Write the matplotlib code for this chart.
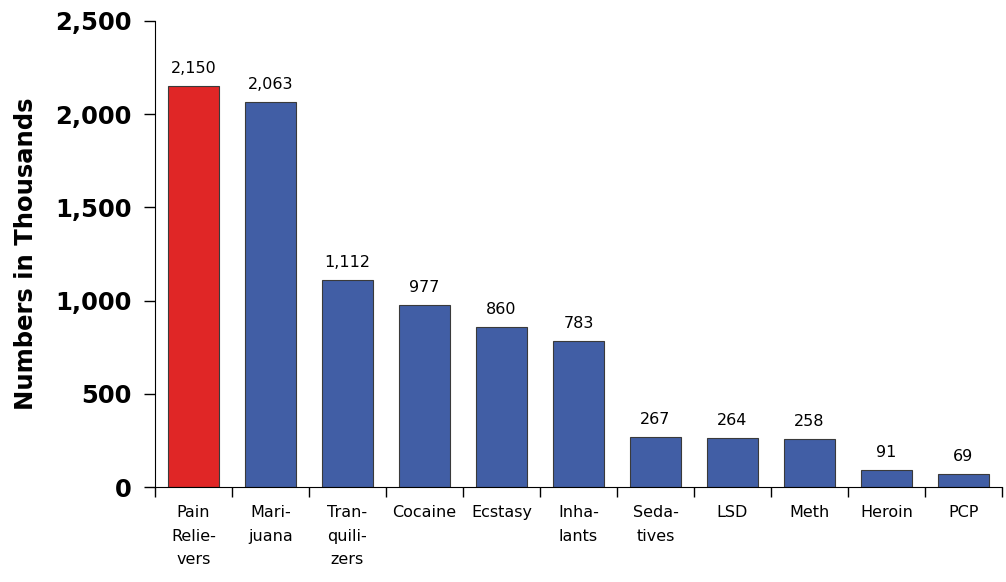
import matplotlib
matplotlib.use("Agg")
from matplotlib import pyplot as plt
from matplotlib.ticker import FuncFormatter, FixedLocator

drugs = ["Pain\nRelie-\nvers", "Mari-\njuana", "Tran-\nquili-\nzers", "Cocaine", "Ecstasy",
         "Inha-\nlants", "Seda-\ntives", "LSD", "Meth", "Heroin", "PCP"]
users = [2150, 2063, 1112, 977, 860, 783, 267, 264, 258, 91, 69]
y_ticks = [0, 500, 1000, 1500, 2000, 2500]

RED = "#e02626"
BLUE = "#415ea5"

plt.rcParams["font.family"] = ["DejaVu Sans"]

fig = plt.figure(figsize=(10.06, 5.82), dpi=100)
ax = fig.add_axes([0.154, 0.163, 0.842, 0.801])

positions = list(range(len(users)))
colors = [RED] + [BLUE] * (len(users) - 1)
bars = ax.bar(positions, users, width=0.67, color=colors,
              edgecolor="#3a3a3a", linewidth=0.8)

for bar, val in zip(bars, users):
    ax.text(bar.get_x() + bar.get_width() / 2, val + 55, f"{val:,}",
            ha="center", va="bottom", fontsize=11.5)

ax.set_xlim(-0.5, len(users) - 0.5)
ax.set_ylim(0, 2500)
ax.set_yticks(y_ticks)
ax.yaxis.set_major_formatter(FuncFormatter(lambda y, _: f"{int(y):,}"))
for lbl in ax.get_yticklabels():
    lbl.set_fontweight("bold")
ax.tick_params(axis="y", labelsize=17.5, length=8, width=1, pad=9)

# category labels at bar centers, tick marks at category boundaries
ax.set_xticks(positions)
ax.set_xticklabels(drugs, fontsize=11.5, linespacing=1.72, va="top")
ax.tick_params(axis="x", which="major", length=0, pad=13)
ax.xaxis.set_minor_locator(FixedLocator([p - 0.5 for p in positions] + [len(users) - 0.5]))
ax.tick_params(axis="x", which="minor", length=7, width=1)

ax.set_ylabel("Numbers in Thousands", fontsize=17.5, fontweight="bold", labelpad=12)

ax.spines["top"].set_visible(False)
ax.spines["right"].set_visible(False)

fig.savefig("out.png", dpi=100)
